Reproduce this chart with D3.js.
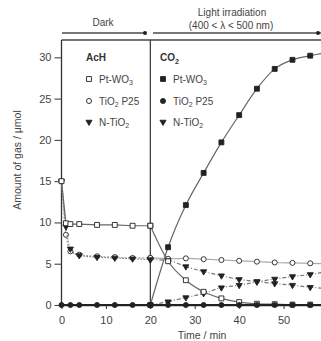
<!DOCTYPE html>
<html><head><meta charset="utf-8">
<script src="https://cdn.jsdelivr.net/npm/d3@7/dist/d3.min.js"></script>
<style>
html,body{margin:0;padding:0;background:#fff;}
svg{display:block;font-family:"Liberation Sans",Arial,sans-serif;}
</style></head>
<body><svg id="c" width="321" height="341"></svg>
<script>
// ---- data ----
const tDark = [0, 1, 2, 4, 8, 12, 16, 20];
const tDarkCO2 = [0, 2, 4, 8, 12, 16, 20];
const tLight = [20, 24, 28, 32, 36, 40, 44, 48, 52, 56, 60];

const achPtWO3Dark = [15, 9.9, 9.8, 9.8, 9.7, 9.7, 9.6, 9.6];
const achP25Dark   = [15, 8.5, 6.5, 6.1, 5.9, 5.8, 5.7, 5.7];
const achNTiO2Dark = [15, 9.5, 6.8, 6.0, 5.8, 5.7, 5.6, 5.5];
const co2Dark      = [0, 0, 0, 0, 0, 0, 0];

const achPtWO3Light = [9.6, 5.3, 3.0, 1.6, 0.8, 0.35, 0.15, 0.1, 0.05, 0.05, 0.05];
const achP25Light   = [5.7, 5.6, 5.65, 5.55, 5.45, 5.35, 5.25, 5.15, 5.1, 5.05, 5.0];
const achNTiO2Light = [5.5, 5.4, 4.65, 4.05, 3.55, 3.1, 2.85, 2.6, 2.4, 2.15, 2.0];
const co2PtWO3Light = [0, 7.0, 12.1, 16.0, 19.7, 23.0, 26.2, 28.6, 29.7, 30.2, 30.6];
const co2P25Light   = [0, 0, 0, 0, 0, 0, 0, 0, 0, 0, 0];
const co2NTiO2Light = [0, 0.4, 0.9, 1.4, 2.1, 2.4, 2.8, 3.15, 3.45, 3.7, 4.1];

const yTicks = [0, 5, 10, 15, 20, 25, 30];
const xTicks = [0, 10, 20, 30, 40, 50, 60];
const legendNames = [["Pt-WO", "3", ""], ["TiO", "2", " P25"], ["N-TiO", "2", ""]];

// ---- layout ----
const svg = d3.select("#c");
const x = d3.scaleLinear().domain([0, 60]).range([61.5, 328]);
const y = d3.scaleLinear().domain([0, 32.1]).range([305, 40]);
const lineGray = "#666", ink = "#222";

const sq = d3.symbol().type(d3.symbolSquare).size(24)();
const ci = d3.symbol().type(d3.symbolCircle).size(20)();
const tri = d3.symbol().type(d3.symbolTriangle).size(16)();

// frame
svg.append("line").attr("x1", x(0)).attr("x2", 321).attr("y1", 40).attr("y2", 40)
  .attr("stroke", "#444").attr("stroke-width", 1.3);
svg.append("line").attr("x1", x(20)).attr("x2", x(20)).attr("y1", 40).attr("y2", y(0))
  .attr("stroke", "#444").attr("stroke-width", 1.3);

// axes
const yAxis = svg.append("g").attr("transform", `translate(${x(0)},0)`)
  .call(d3.axisLeft(y).tickValues(yTicks).tickSize(7).tickPadding(3));
const xAxis = svg.append("g").attr("transform", `translate(0,${y(0)})`)
  .call(d3.axisBottom(x).tickValues(xTicks).tickSize(4).tickPadding(7));
[yAxis, xAxis].forEach(g => {
  g.selectAll("path").attr("stroke", "#333").attr("stroke-width", 1.3);
  g.selectAll("line").attr("stroke", "#444").attr("stroke-width", 1.1);
  g.selectAll("text").attr("fill", "#444").style("font-size", "11px")
    .style("font-family", "'Liberation Sans',Arial,sans-serif");
});
xAxis.select(".domain").attr("d", `M${x(0)},0.5H321`);
yAxis.select(".domain").attr("d", `M0,${y(0)}V40`);

svg.append("text").attr("transform", `translate(21,160) rotate(-90)`)
  .attr("text-anchor", "middle").attr("fill", "#444").style("font-size", "10.5px")
  .text("Amount of gas / μmol");
svg.append("text").attr("x", 202).attr("y", 339).attr("text-anchor", "middle")
  .attr("fill", "#444").style("font-size", "10.5px").text("Time / min");

// header arrows
svg.append("line").attr("x1", 62).attr("x2", 145).attr("y1", 33).attr("y2", 33)
  .attr("stroke", "#777").attr("stroke-width", 2);
svg.append("circle").attr("cx", 145).attr("cy", 33).attr("r", 2).attr("fill", "#222");
svg.append("line").attr("x1", 153).attr("x2", 321).attr("y1", 33).attr("y2", 33)
  .attr("stroke", "#777").attr("stroke-width", 2);
svg.append("circle").attr("cx", 318).attr("cy", 33).attr("r", 2).attr("fill", "#222");
svg.append("text").attr("x", 103).attr("y", 26).attr("text-anchor", "middle")
  .attr("fill", "#444").style("font-size", "10px").text("Dark");
svg.append("text").attr("x", 232).attr("y", 16).attr("text-anchor", "middle")
  .attr("fill", "#444").style("font-size", "10px").text("Light irradiation");
svg.append("text").attr("x", 231).attr("y", 29).attr("text-anchor", "middle")
  .attr("fill", "#444").style("font-size", "10px").text("(400 < λ < 500 nm)");

// ---- series ----
function series(ts, vs, opt) {
  const pts = ts.map((t, i) => [t, vs[i]]);
  const line = d3.line().x(d => x(d[0])).y(d => y(d[1])).curve(opt.curve || d3.curveMonotoneX);
  svg.append("path").attr("d", line(pts)).attr("fill", "none")
    .attr("stroke", opt.stroke || lineGray).attr("stroke-width", opt.sw || 1.2)
    .attr("stroke-dasharray", opt.dash || null);
  if (opt.marker) {
    svg.append("g").selectAll("path").data(pts).join("path")
      .attr("d", opt.marker)
      .attr("transform", d => `translate(${x(d[0])},${y(d[1])})${opt.rot ? " rotate(180)" : ""}`)
      .attr("fill", opt.fill).attr("stroke", ink).attr("stroke-width", 0.9);
  }
}

// dark phase
series(tDark, achP25Dark, {stroke: "#aaa", dash: "2,1.5", marker: ci, fill: "#fff"});
series(tDark, achNTiO2Dark, {stroke: "#777", dash: "1.5,1.5", marker: tri, rot: true, fill: ink});
series(tDark, achPtWO3Dark, {stroke: lineGray, marker: sq, fill: "#fff", curve: d3.curveLinear});
// light phase
series(tLight, achP25Light, {stroke: "#aaa", marker: ci, fill: "#fff"});
series(tLight, achNTiO2Light, {stroke: "#777", dash: "4,2,1,2", marker: tri, rot: true, fill: ink});
series(tLight, co2NTiO2Light, {stroke: "#777", dash: "4,2,1,2", marker: tri, rot: true, fill: ink});
series(tLight, achPtWO3Light, {stroke: lineGray, marker: sq, fill: "#fff"});
series(tLight, co2P25Light, {stroke: ink, sw: 2, marker: ci, fill: ink, curve: d3.curveLinear});
series(tLight, co2PtWO3Light, {stroke: lineGray, marker: sq, fill: ink});
series(tDarkCO2, co2Dark, {stroke: ink, sw: 2, marker: ci, fill: ink, curve: d3.curveLinear});

// ---- legends ----
function legend(x0, title, markers) {
  const g = svg.append("g");
  const t = g.append("text").attr("x", x0).attr("y", 61).attr("fill", "#333")
    .style("font-size", "10px").style("font-weight", "bold");
  t.append("tspan").text(title[0]);
  if (title[1]) t.append("tspan").attr("dy", 2.5).style("font-size", "7px").text(title[1]);
  markers.forEach((m, i) => {
    const yy = [79, 101, 122][i];
    g.append("path").attr("d", m.shape)
      .attr("transform", `translate(${x0 + 3},${yy})${m.rot ? " rotate(180)" : ""}`)
      .attr("fill", m.fill).attr("stroke", ink).attr("stroke-width", 0.9);
    const tx = g.append("text").attr("x", x0 + 13).attr("y", yy + 3.5).attr("fill", "#444")
      .style("font-size", "10px");
    tx.append("tspan").text(legendNames[i][0]);
    tx.append("tspan").attr("dy", 2.5).style("font-size", "7px").text(legendNames[i][1]);
    tx.append("tspan").attr("dy", -2.5).text(legendNames[i][2]);
  });
}
legend(86, ["AcH"], [{shape: sq, fill: "#fff"}, {shape: ci, fill: "#fff"}, {shape: tri, fill: ink, rot: true}]);
legend(160, ["CO", "2"], [{shape: sq, fill: ink}, {shape: ci, fill: ink}, {shape: tri, fill: ink, rot: true}]);
</script></body></html>
